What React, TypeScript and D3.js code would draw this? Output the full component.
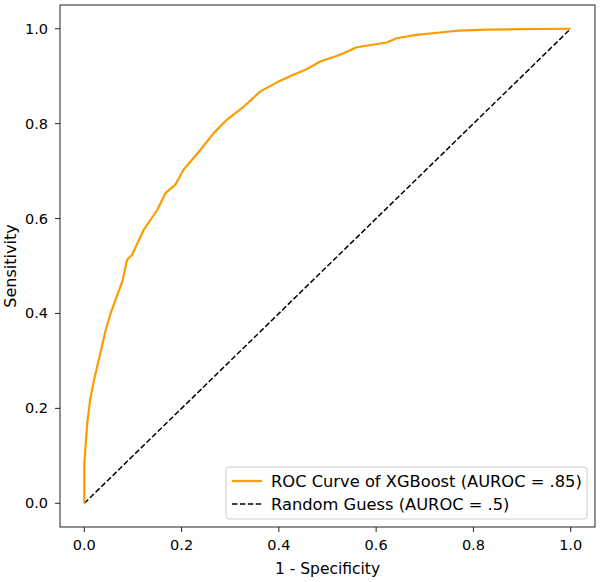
import React from "react";
import * as d3 from "d3";

const fpr = [0, 0, 0.003, 0.006, 0.012, 0.02, 0.033, 0.044, 0.054, 0.064, 0.078, 0.088, 0.098, 0.122, 0.15, 0.167, 0.187, 0.204, 0.239, 0.266, 0.293, 0.328, 0.362, 0.396, 0.43, 0.458, 0.485, 0.526, 0.56, 0.622, 0.642, 0.683, 0.731, 0.769, 0.827, 0.9, 1.0];
const tpr = [0, 0.084, 0.126, 0.169, 0.218, 0.26, 0.316, 0.365, 0.4, 0.428, 0.467, 0.513, 0.523, 0.576, 0.618, 0.654, 0.671, 0.703, 0.745, 0.78, 0.808, 0.836, 0.868, 0.887, 0.903, 0.915, 0.931, 0.945, 0.961, 0.971, 0.98, 0.987, 0.992, 0.996, 0.998, 0.999, 1.0];
const guessX = [0, 1];
const guessY = [0, 1];
const ticks = [0, 0.2, 0.4, 0.6, 0.8, 1.0];
const tickLabels = ["0.0", "0.2", "0.4", "0.6", "0.8", "1.0"];
const legendLabels = ["ROC Curve of XGBoost (AUROC = .85)", "Random Guess (AUROC = .5)"];

const W = 600, H = 582;
const L = 60, R = 595, T = 5, B = 527;
const FONT = "DejaVu Sans, sans-serif";
const ORANGE = "#fb9d00";

export default function App() {
  const x = d3.scaleLinear().domain([-0.05, 1.05]).range([L, R]);
  const y = d3.scaleLinear().domain([-0.05, 1.05]).range([B, T]);
  const line = d3.line<[number, number]>().x(d => x(d[0])).y(d => y(d[1]));
  const roc = line(fpr.map((v, i) => [v, tpr[i]] as [number, number])) || "";
  const guess = line(guessX.map((v, i) => [v, guessY[i]] as [number, number])) || "";

  const lgX = 226, lgY = 467, lgW = 361, lgH = 52;
  return (
    <svg width={W} height={H} style={{ position: "absolute", left: 0, top: 0, background: "#fff" }}>
      <rect x={0} y={0} width={W} height={H} fill="#fff" />
      <path d={guess} fill="none" stroke="#000" strokeWidth={1.5} strokeDasharray="5.5,2.4" />
      <path d={roc} fill="none" stroke={ORANGE} strokeWidth={2.2} strokeLinejoin="round" />
      <rect x={L} y={T} width={R - L} height={B - T} fill="none" stroke="#222" strokeWidth={1} />
      {ticks.map((t, i) => (
        <g key={"x" + i}>
          <line x1={x(t)} x2={x(t)} y1={B} y2={B + 5} stroke="#222" strokeWidth={1} />
          <text x={x(t)} y={550} textAnchor="middle" fontFamily={FONT} fontSize={14.5} fill="#000">{tickLabels[i]}</text>
        </g>
      ))}
      {ticks.map((t, i) => (
        <g key={"y" + i}>
          <line x1={L - 5} x2={L} y1={y(t)} y2={y(t)} stroke="#222" strokeWidth={1} />
          <text x={48} y={y(t) + 5} textAnchor="end" fontFamily={FONT} fontSize={14.5} fill="#000">{tickLabels[i]}</text>
        </g>
      ))}
      <text x={(L + R) / 2} y={574} textAnchor="middle" fontFamily={FONT} fontSize={15.5} fill="#000">1 - Specificity</text>
      <text transform={`translate(15.5,${(T + B) / 2}) rotate(-90)`} textAnchor="middle" fontFamily={FONT} fontSize={16} fill="#000">Sensitivity</text>
      <g>
        <rect x={lgX} y={lgY} width={lgW} height={lgH} rx={3} fill="#fff" fillOpacity={0.8} stroke="#cccccc" strokeWidth={1} />
        <line x1={232} x2={262} y1={481} y2={481} stroke={ORANGE} strokeWidth={2.2} />
        <text x={271} y={486.5} fontFamily={FONT} fontSize={16.3} fill="#000">{legendLabels[0]}</text>
        <line x1={232} x2={262} y1={504} y2={504} stroke="#000" strokeWidth={1.5} strokeDasharray="5.5,2.4" />
        <text x={271} y={509.5} fontFamily={FONT} fontSize={16.3} fill="#000">{legendLabels[1]}</text>
      </g>
    </svg>
  );
}
